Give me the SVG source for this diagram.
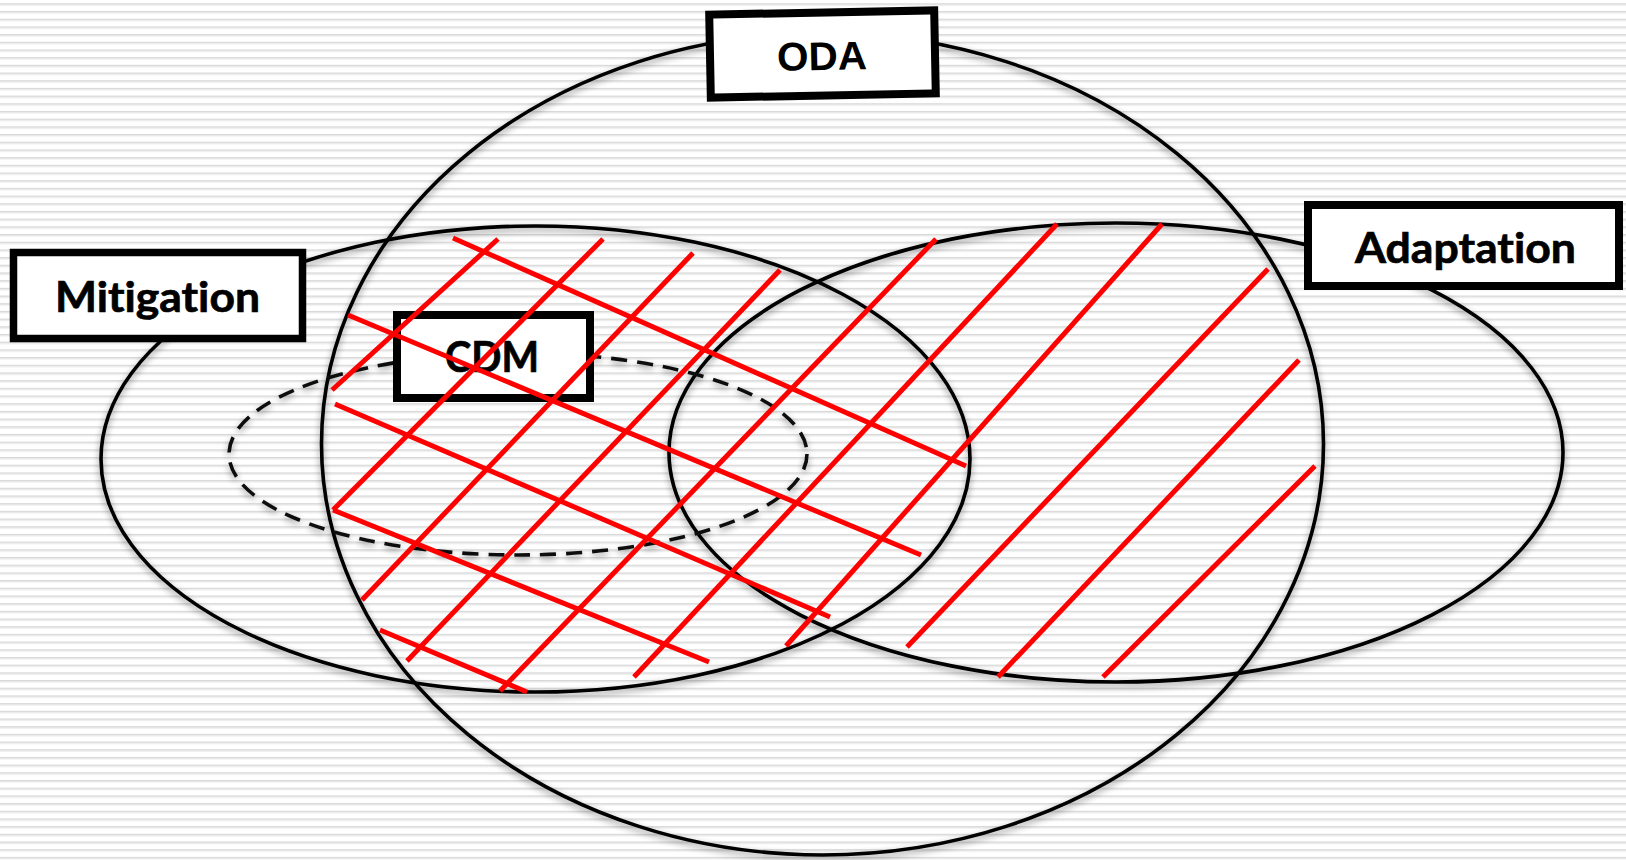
<svg xmlns="http://www.w3.org/2000/svg" width="1626" height="860" viewBox="0 0 1626 860">
  <defs>
    <pattern id="stripes" patternUnits="userSpaceOnUse" x="0" y="3.3" width="20" height="7.69">
      <rect x="0" y="0" width="20" height="1.6" fill="#d8d8d8"/>
      <rect x="0" y="1.6" width="20" height="0.9" fill="#ececec"/>
    </pattern>
    <filter id="sh" x="-10%" y="-10%" width="120%" height="125%">
      <feGaussianBlur in="SourceAlpha" stdDeviation="3.5"/>
      <feOffset dx="0" dy="3"/>
      <feComponentTransfer><feFuncA type="linear" slope="0.45"/></feComponentTransfer>
      <feMerge><feMergeNode/><feMergeNode in="SourceGraphic"/></feMerge>
    </filter>
  </defs>
  <style>
    .ring { fill: none; stroke: #000; stroke-width: 3.6; }
    .dash { fill: none; stroke: #111; stroke-width: 3.6; stroke-dasharray: 16 10; }
    .box { fill: #fff; stroke: #000; }
    .lab { font-family: Lato, "Open Sans", "Liberation Sans", sans-serif; font-weight: bold; fill: #000; stroke: #000; stroke-width: 0.7; font-variant-ligatures: none; }
    .oda { font-family: "Liberation Sans", Arial, sans-serif; font-weight: bold; fill: #000; }
    .hatch line { stroke: #ff0000; stroke-width: 5; stroke-linecap: butt; }
  </style>

  <rect x="0" y="0" width="1626" height="860" fill="#ffffff"/>
  <rect x="0" y="0" width="1626" height="860" fill="url(#stripes)"/>

  <g id="mitigation">
    <ellipse class="ring" cx="535.5" cy="459" rx="434.5" ry="233" filter="url(#sh)"/>
  </g>
  <g id="adaptation">
    <ellipse class="ring" cx="1116" cy="452.5" rx="447" ry="229.5" filter="url(#sh)"/>
  </g>
  <g id="oda">
    <ellipse class="ring" cx="822.5" cy="444" rx="501" ry="411" filter="url(#sh)"/>
  </g>
  <g id="cdm">
    <ellipse class="dash" cx="518" cy="454" rx="289" ry="101" filter="url(#sh)"/>
  </g>

  <g id="label-oda" transform="rotate(-1.1 822 54)">
    <rect class="box" x="710" y="12.5" width="225" height="83" stroke-width="8"/>
    <text class="oda" x="777" y="70" font-size="40" textLength="90" lengthAdjust="spacingAndGlyphs">ODA</text>
  </g>
  <g id="label-mitigation">
    <rect class="box" x="13.5" y="252.5" width="289" height="86" stroke-width="7.5"/>
    <text class="lab" x="55" y="311.5" font-size="42" textLength="205" lengthAdjust="spacingAndGlyphs">Mitigation</text>
  </g>
  <g id="label-adaptation">
    <rect class="box" x="1308" y="205" width="311" height="81" stroke-width="8"/>
    <text class="lab" x="1355" y="263" font-size="42" textLength="221" lengthAdjust="spacingAndGlyphs">Adaptation</text>
  </g>
  <g id="label-cdm">
    <rect class="box" x="397" y="315" width="193" height="83" stroke-width="8"/>
    <text class="lab" x="445" y="372" font-size="42" textLength="94" lengthAdjust="spacingAndGlyphs">CDM</text>
  </g>

  <g id="hatching" class="hatch">
    <line x1="332" y1="390" x2="498" y2="239"/>
    <line x1="333" y1="510" x2="603" y2="239"/>
    <line x1="362" y1="600" x2="693" y2="253"/>
    <line x1="407" y1="661" x2="780" y2="270"/>
    <line x1="500" y1="691" x2="936" y2="239"/>
    <line x1="634" y1="677" x2="1057" y2="224"/>
    <line x1="786" y1="646" x2="1162" y2="224"/>
    <line x1="907" y1="647" x2="1268" y2="269"/>
    <line x1="998" y1="677" x2="1299" y2="360"/>
    <line x1="1103" y1="677" x2="1315" y2="466"/>
    <line x1="453" y1="238" x2="966" y2="466"/>
    <line x1="348" y1="315" x2="921" y2="555"/>
    <line x1="335" y1="404" x2="830" y2="617"/>
    <line x1="333" y1="510" x2="709" y2="662"/>
    <line x1="380" y1="630" x2="527" y2="692"/>
  </g>
</svg>
